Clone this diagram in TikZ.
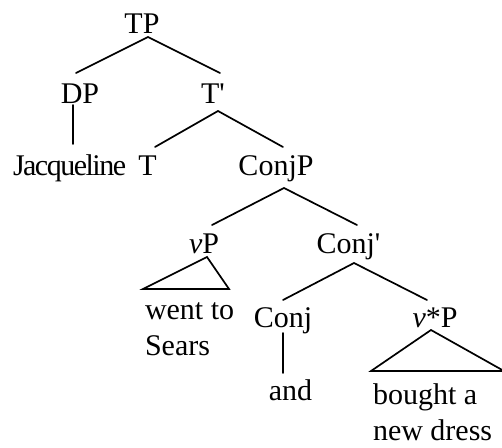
\documentclass[tikz,border=0pt]{standalone}
\usepackage{fontspec}
\setmainfont{Liberation Serif}[Ligatures=TeXOff]
\newfontfamily\tightserif{Liberation Serif}[Ligatures=TeXOff,LetterSpace=-5]
\usetikzlibrary{calc}
\begin{document}
\begin{tikzpicture}[x=1pt,y=-1pt,
  lab/.style={inner sep=0pt,outer sep=0pt,anchor=base,font=\fontsize{30}{36}\selectfont},
  leaf/.style={lab,anchor=base west,align=left},
  edge/.style={line width=1.7pt,line cap=round,line join=miter}]
\useasboundingbox (0,0) rectangle (502,447);
\node[lab] (TP) at (142,33) {TP};
\node[lab] (DP) at (80,103) {DP};
\node[lab] (Tb) at (213,103) {T'};
\node[lab,anchor=base west] (Jac) at (13,175) {\tightserif Jacqueline};
\node[lab] (T) at (147.5,175) {T};
\node[lab] (ConjP) at (276,175) {ConjP};
\node[lab] (vP) at (204,253) {\textit{v}P};
\node[lab] (Conjb) at (348.5,253) {Conj'};
\node[leaf] (went) at (145,355) {went to\\Sears};
\node[lab] (Conj) at (283,327) {Conj};
\node[lab] (vsP) at (435,327) {\textit{v}*P};
\node[lab] (and) at (290.5,400) {and};
\node[leaf] (bought) at (373,440) {bought a\\new dress};
\draw[edge] ($(DP.base)+(-4,-30)$) -- ($(TP.base)+(6,4)$) -- ($(Tb.base)+(7,-30)$);
\draw[edge] ($(DP.base)+(-7,2)$) -- ($(Jac.base west)+(60,-31)$);
\draw[edge] ($(T.base)+(7.5,-28)$) -- ($(Tb.base)+(5,8)$) -- ($(ConjP.base)+(7,-28)$);
\draw[edge] ($(vP.base)+(8,-28)$) -- ($(ConjP.base)+(8,13)$) -- ($(Conjb.base)+(8.5,-28)$);
\draw[edge] ($(vP.base)+(3,4)$) -- ($(went.base west)+(-2,-66)$) -- ($(went.base west)+(84,-66)$) -- cycle;
\draw[edge] ($(Conj.base)+(0,-27)$) -- ($(Conjb.base)+(5.5,10)$) -- ($(vsP.base)+(-8,-27)$);
\draw[edge] ($(Conj.base)+(0,6)$) -- ($(and.base)+(-7.5,-27)$);
\draw[edge] ($(vsP.base)+(-4,3)$) -- ($(bought.base west)+(-2,-69)$) -- ($(bought.base west)+(131,-69)$) -- cycle;
\end{tikzpicture}
\end{document}
